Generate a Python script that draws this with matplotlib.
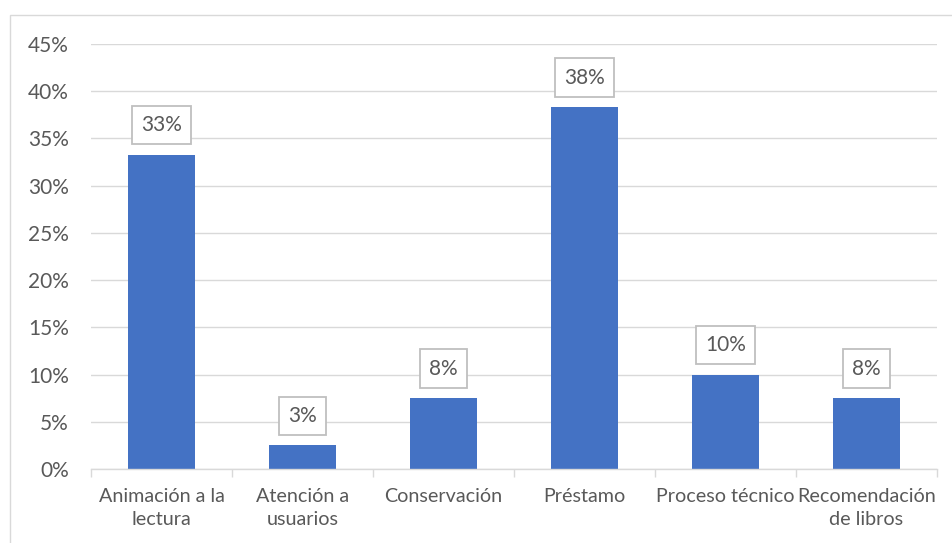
import matplotlib
matplotlib.use('Agg')
import matplotlib.pyplot as plt
import numpy as np
from matplotlib.patches import Rectangle
from matplotlib.ticker import FixedLocator, PercentFormatter

categories = ['Animación a la\nlectura', 'Atención a\nusuarios', 'Conservación',
              'Préstamo', 'Proceso técnico', 'Recomendación\nde libros']
shares = [33.3, 2.5, 7.5, 38.3, 10.0, 7.5]

BAR_COLOR = '#4472C4'
GRID_COLOR = '#d9d9d9'
TEXT_COLOR = '#595959'

plt.rcParams['font.family'] = ['Lato', 'DejaVu Sans']

W, H = 952, 543
fig = plt.figure(figsize=(W / 100, H / 100), dpi=100)
ax = fig.add_axes([91 / W, 1 - 469 / H, (937 - 91) / W, (469 - 44) / H])

# light frame around the chart area
fig.add_artist(Rectangle((10 / W, -0.1), 1.2, 1 - 15 / H + 0.1, transform=fig.transFigure,
                         fill=False, edgecolor=GRID_COLOR, linewidth=1.0, clip_on=False))

x = np.arange(len(categories))
ax.bar(x, shares, width=0.475, color=BAR_COLOR, zorder=2)

ax.set_xlim(-0.5, len(categories) - 0.5)
ax.set_ylim(0, 45)
ax.set_yticks(np.arange(0, 46, 5))
ax.yaxis.set_major_formatter(PercentFormatter(decimals=0))
ax.yaxis.grid(True, color=GRID_COLOR, linewidth=1.0, zorder=0)
ax.set_axisbelow(True)

for side in ['top', 'right', 'left']:
    ax.spines[side].set_visible(False)
ax.spines['bottom'].set_color(GRID_COLOR)
ax.spines['bottom'].set_linewidth(1.0)

ax.set_xticks(x)
ax.set_xticklabels(categories, linespacing=1.45)
ax.xaxis.set_minor_locator(FixedLocator(np.arange(-0.5, len(categories), 1.0)))
ax.tick_params(axis='x', which='major', length=0, pad=13.5, labelsize=14.2, labelcolor=TEXT_COLOR)
ax.tick_params(axis='x', which='minor', length=5.5, color=GRID_COLOR, width=1.0)
ax.tick_params(axis='y', length=0, pad=16, labelsize=15, labelcolor=TEXT_COLOR)

# boxed value labels above each bar
for xi, v in zip(x, shares):
    ax.annotate(f'{int(v + 0.5)}%', (xi, v), xytext=(0, 14), textcoords='offset points',
                ha='center', va='bottom', fontsize=15, color=TEXT_COLOR, zorder=3,
                bbox=dict(boxstyle='square,pad=0.45', facecolor='white',
                          edgecolor='#bfbfbf', linewidth=1.3))

fig.savefig('out.png', dpi=100, facecolor='white')
